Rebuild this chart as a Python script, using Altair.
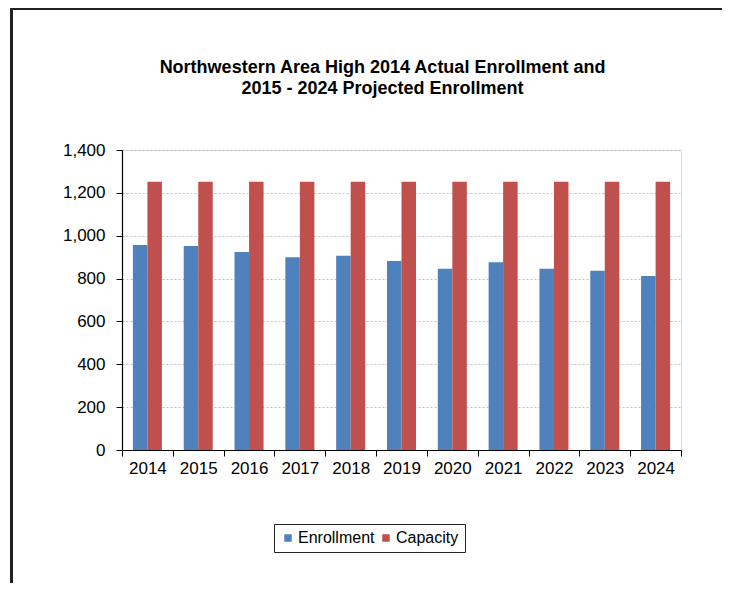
import altair as alt
import pandas as pd

years = ["2014", "2015", "2016", "2017", "2018", "2019", "2020", "2021", "2022", "2023", "2024"]
enrollment = [957, 952, 924, 899, 907, 882, 846, 876, 846, 836, 812]
capacity = [1252] * 11
series = ["Enrollment", "Capacity"]
colors = ["#4F81BD", "#C0504D"]
y_ticks = [0, 200, 400, 600, 800, 1000, 1200, 1400]

rows = []
for i, yr in enumerate(years):
    rows.append({"Year": yr, "Series": "Enrollment", "Value": enrollment[i]})
    rows.append({"Year": yr, "Series": "Capacity", "Value": capacity[i]})
df = pd.DataFrame(rows)

FONT = "Liberation Sans"
W, H = 559, 300
PAD_L, PAD_T, PAD_R, PAD_B = 114, 142, 41, 133

bars = alt.Chart(df).mark_bar().encode(
    x=alt.X("Year:N", sort=years, title=None,
            scale=alt.Scale(paddingInner=0, paddingOuter=0),
            axis=alt.Axis(labelAngle=0, tickBand="extent", tickSize=6,
                          labelPadding=4, labelFontSize=17, labelFont=FONT,
                          labelColor="#000", domainColor="#000", tickColor="#000",
                          domainWidth=1.2)),
    xOffset=alt.XOffset("Series:N", sort=series,
                        scale=alt.Scale(paddingInner=0, paddingOuter=0.75)),
    y=alt.Y("Value:Q", title=None,
            scale=alt.Scale(domain=[0, 1400], nice=False),
            axis=alt.Axis(values=y_ticks, format=",d", tickSize=6,
                          labelPadding=11, labelFontSize=17, labelFont=FONT,
                          labelColor="#000", domainColor="#000", tickColor="#000",
                          domainWidth=1.2,
                          grid=True, gridColor="#BFBFBF", gridDash=[2, 2])),
    color=alt.Color("Series:N", sort=series,
                    scale=alt.Scale(domain=series, range=colors),
                    legend=alt.Legend(title=None, orient="none", legendX=152, legendY=374,
                                      direction="horizontal", columns=2,
                                      symbolType="square", symbolSize=56,
                                      symbolStrokeWidth=0,
                                      labelFontSize=16, labelFont=FONT, labelColor="#000",
                                      labelOffset=2, columnPadding=3,
                                      padding=6, strokeColor="#222",
                                      fillColor="#fff")),
)

left_border = alt.Chart(df).mark_rule(color="#222", strokeWidth=1.6).encode(
    x=alt.value(-110.5), y=alt.value(-141.2), y2=alt.value(H + PAD_B)
)
top_border = alt.Chart(df).mark_rule(color="#222", strokeWidth=1.6).encode(
    x=alt.value(-110.5), x2=alt.value(W + PAD_R), y=alt.value(-141.2)
)

chart = alt.layer(bars, left_border, top_border).properties(
    width=W, height=H,
    title=alt.TitleParams(
        text=["Northwestern Area High  2014 Actual Enrollment and",
              "2015 - 2024 Projected Enrollment"],
        font=FONT, fontSize=18, fontWeight="bold", color="#000",
        anchor="middle", dx=-19, offset=-90, lineHeight=21,
    ),
    autosize=alt.AutoSizeParams(type="none"),
    padding={"left": PAD_L, "top": PAD_T, "right": PAD_R, "bottom": PAD_B},
).configure_view(
    stroke="#868686", strokeWidth=1.2
).configure(background="#ffffff")

chart.save("out.html", embed_options={"renderer": "svg", "actions": False})
